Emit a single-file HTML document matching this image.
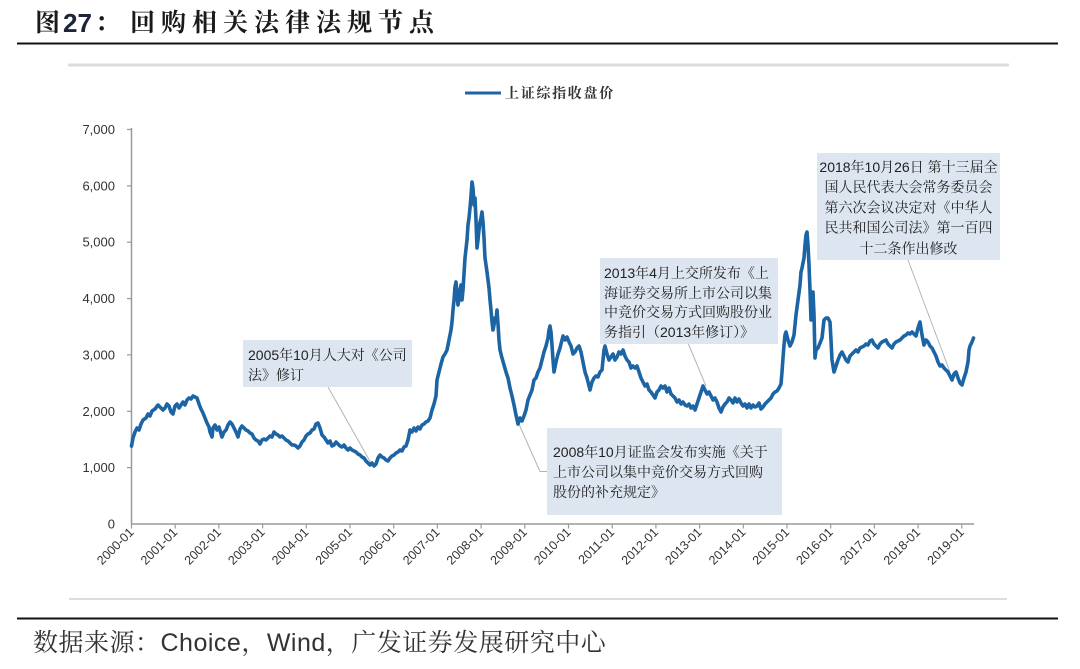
<!DOCTYPE html>
<html><head><meta charset="utf-8">
<style>
html,body{margin:0;padding:0;background:#fff;}
svg{display:block;}
.ser{font-family:"Liberation Sans","Noto Serif CJK SC",serif;}
.ann{font-family:"Liberation Sans","Noto Serif CJK SC",serif;font-size:14px;fill:#222;}
.ax{font-family:"Liberation Sans",sans-serif;font-size:13px;fill:#333;}
.axx{font-family:"Liberation Sans",sans-serif;font-size:12.5px;fill:#333;}
</style></head>
<body>
<svg width="1080" height="669" viewBox="0 0 1080 669" xmlns="http://www.w3.org/2000/svg">
<rect width="1080" height="669" fill="#fff"/>
<!-- title -->
<text x="35" y="31" class="ser" font-size="25" font-weight="700" fill="#1a1a1a">图</text>
<text x="63" y="32" font-family="Liberation Sans,sans-serif" font-size="26" font-weight="700" fill="#1c2638">27</text>
<text x="95" y="31" class="ser" font-size="25" font-weight="700" fill="#1a1a1a">：</text>
<text x="130" y="31" class="ser" font-size="25" font-weight="700" fill="#1a1a1a" letter-spacing="6">回购相关法律法规节点</text>
<line x1="17" y1="43.5" x2="1058" y2="43.5" stroke="#111" stroke-width="2"/>
<line x1="68" y1="65" x2="1009" y2="65" stroke="#dcdcdc" stroke-width="3"/>
<!-- legend -->
<line x1="465" y1="93" x2="501" y2="93" stroke="#1c64a4" stroke-width="3"/>
<text x="505" y="98" class="ser" font-size="14" font-weight="700" fill="#333" letter-spacing="1.7">上证综指收盘价</text>
<!-- y axis -->
<line x1="131.5" y1="128" x2="131.5" y2="524" stroke="#9a9a9a" stroke-width="1.5"/>
<g stroke="#9a9a9a" stroke-width="1.2">
<line x1="127" y1="129.5" x2="131.5" y2="129.5"/>
<line x1="127" y1="185.9" x2="131.5" y2="185.9"/>
<line x1="127" y1="242.2" x2="131.5" y2="242.2"/>
<line x1="127" y1="298.6" x2="131.5" y2="298.6"/>
<line x1="127" y1="354.9" x2="131.5" y2="354.9"/>
<line x1="127" y1="411.3" x2="131.5" y2="411.3"/>
<line x1="127" y1="467.6" x2="131.5" y2="467.6"/>
</g>
<g class="ax" text-anchor="end">
<text x="115" y="134">7,000</text>
<text x="115" y="190.4">6,000</text>
<text x="115" y="246.7">5,000</text>
<text x="115" y="303.1">4,000</text>
<text x="115" y="359.4">3,000</text>
<text x="115" y="415.8">2,000</text>
<text x="115" y="472.1">1,000</text>
<text x="115" y="528.5">0</text>
</g>
<!-- x axis -->
<line x1="131" y1="524" x2="974" y2="524" stroke="#9a9a9a" stroke-width="1.5"/>
<g stroke="#9a9a9a" stroke-width="1.2">
<line x1="131.5" y1="524" x2="131.5" y2="528.5"/>
<line x1="175.2" y1="524" x2="175.2" y2="528.5"/>
<line x1="218.9" y1="524" x2="218.9" y2="528.5"/>
<line x1="262.6" y1="524" x2="262.6" y2="528.5"/>
<line x1="306.3" y1="524" x2="306.3" y2="528.5"/>
<line x1="350" y1="524" x2="350" y2="528.5"/>
<line x1="393.7" y1="524" x2="393.7" y2="528.5"/>
<line x1="437.4" y1="524" x2="437.4" y2="528.5"/>
<line x1="481.1" y1="524" x2="481.1" y2="528.5"/>
<line x1="524.8" y1="524" x2="524.8" y2="528.5"/>
<line x1="568.5" y1="524" x2="568.5" y2="528.5"/>
<line x1="612.2" y1="524" x2="612.2" y2="528.5"/>
<line x1="655.9" y1="524" x2="655.9" y2="528.5"/>
<line x1="699.6" y1="524" x2="699.6" y2="528.5"/>
<line x1="743.3" y1="524" x2="743.3" y2="528.5"/>
<line x1="787" y1="524" x2="787" y2="528.5"/>
<line x1="830.7" y1="524" x2="830.7" y2="528.5"/>
<line x1="874.4" y1="524" x2="874.4" y2="528.5"/>
<line x1="918.1" y1="524" x2="918.1" y2="528.5"/>
<line x1="961.8" y1="524" x2="961.8" y2="528.5"/>
</g>
<g class="axx" text-anchor="end">
<text transform="translate(134.5,533) rotate(-45)">2000-01</text>
<text transform="translate(178.2,533) rotate(-45)">2001-01</text>
<text transform="translate(221.9,533) rotate(-45)">2002-01</text>
<text transform="translate(265.6,533) rotate(-45)">2003-01</text>
<text transform="translate(309.3,533) rotate(-45)">2004-01</text>
<text transform="translate(353,533) rotate(-45)">2005-01</text>
<text transform="translate(396.7,533) rotate(-45)">2006-01</text>
<text transform="translate(440.4,533) rotate(-45)">2007-01</text>
<text transform="translate(484.1,533) rotate(-45)">2008-01</text>
<text transform="translate(527.8,533) rotate(-45)">2009-01</text>
<text transform="translate(571.5,533) rotate(-45)">2010-01</text>
<text transform="translate(615.2,533) rotate(-45)">2011-01</text>
<text transform="translate(658.9,533) rotate(-45)">2012-01</text>
<text transform="translate(702.6,533) rotate(-45)">2013-01</text>
<text transform="translate(746.3,533) rotate(-45)">2014-01</text>
<text transform="translate(790,533) rotate(-45)">2015-01</text>
<text transform="translate(833.7,533) rotate(-45)">2016-01</text>
<text transform="translate(877.4,533) rotate(-45)">2017-01</text>
<text transform="translate(921.1,533) rotate(-45)">2018-01</text>
<text transform="translate(964.8,533) rotate(-45)">2019-01</text>
</g>
<!-- leader lines -->
<g stroke="#b4b4b4" stroke-width="1" fill="none">
<line x1="328" y1="387" x2="371" y2="463"/>
<line x1="688" y1="343" x2="706" y2="386"/>
<polyline points="518,422 540,471.5 547,471.5"/>
<line x1="908" y1="260" x2="950" y2="372"/>
</g>
<!-- series -->
<polyline fill="none" stroke="#1c64a4" stroke-width="3.6" stroke-linejoin="round" stroke-linecap="round" points="
131.5,446 133,438 135,432 137,428 139,430 141,424 143,420 146,418 148,414 150,416 152,411 155,409 158,405 160,407 163,410 165,408 167,404 169,406 171,412 173,414 175,406 177,404 179,408 181,405 183,402 185,405 187,400 189,398 191,399 193,396 195,397 197,398 199,404 201,409 203,413 205,418 207,423 209,427 210,432 212,437 213,428 215,425 217,430 219,427 221,434 222,437 224,432 226,430 228,425 230,422 232,424 234,428 236,432 238,437 240,429 242,426 244,428 246,430 248,431 250,433 252,434 254,438 256,440 258,441 260,444 262,440 264,439 266,440 268,438 270,436 272,437 274,432 276,434 278,435 280,437 282,436 284,438 286,440 288,441 290,443 292,445 294,445 296,446 298,448 300,446 302,442 304,440 306,436 308,434 310,433 312,430 314,429 316,424 318,423 320,428 322,435 324,437 326,440 328,443 330,441 332,446 334,445 336,442 338,444 340,446 342,447 344,445 346,448 348,450 350,448 352,450 354,451 356,452 358,454 360,455 362,457 364,458 366,461 368,463 370,465 372,463 374,466 376,464 378,458 380,455 382,457 384,458 386,460 388,461 390,458 392,456 394,455 396,453 398,452 400,450 402,451 404,447 406,446 408,440 410,430 412,432 414,428 416,431 418,427 420,429 422,425 424,424 426,422 428,421 430,418 432,410 434,404 436,396 437,380 439,372 441,364 443,357 445,354 447,350 449,340 451,330 452,322 453,310 454,300 455,287 456,282 457,295 458,305 459,299 460,290 461,285 462,300 463,290 465,258 467,240 468,225 469,218 470,208 471,196 472,182 473,188 474,205 475,198 476,220 477,248 478,240 479,230 480,222 481,218 482,212 483,222 484,238 485,258 486,265 487,272 488,280 489,288 490,300 491,310 492,322 493,330 494,325 495,318 496,320 497,310 498,324 499,340 500,350 502,358 504,365 506,372 508,378 510,388 512,396 514,405 516,415 518,424 520,418 522,421 524,416 526,410 528,400 530,395 532,390 534,380 536,378 538,372 540,368 542,360 544,352 546,346 548,338 549,330 550,326 551,332 552,345 553,360 554,372 556,362 558,354 560,348 562,340 563,336 565,340 567,337 569,342 571,346 573,354 575,352 577,348 579,346 581,352 583,362 585,372 587,378 589,386 590,390 592,382 594,378 596,376 598,377 600,372 602,370 604,350 605,346 607,354 609,360 611,357 613,354 615,360 617,357 619,352 621,354 623,350 625,356 627,360 629,362 631,368 633,366 635,368 637,366 639,372 641,378 643,382 645,386 647,384 649,390 651,392 653,395 655,398 657,392 659,390 661,386 663,388 665,386 667,392 669,388 671,394 673,396 675,398 677,402 679,400 681,404 683,402 685,405 687,406 689,404 691,408 693,406 695,410 697,404 699,398 701,392 703,386 705,390 707,394 709,392 711,396 713,400 715,398 717,402 719,408 721,412 723,407 725,404 727,402 729,398 731,400 733,403 735,398 737,402 739,399 741,403 743,406 745,404 747,408 749,404 751,408 753,405 755,407 757,406 759,403 761,409 763,407 765,404 767,402 769,400 771,398 773,394 775,392 777,391 779,388 781,384 782,372 783,358 784,345 785,335 786,332 788,340 790,346 792,342 794,335 796,315 798,300 800,285 801,272 802,268 804,258 805,245 806,235 807,232 808,245 809,265 810,290 811,320 812,300 813,292 814,315 815,358 816,350 818,348 820,343 822,338 824,320 826,318 828,318 830,322 831,340 832,360 834,372 836,366 838,360 840,355 842,352 844,356 846,360 848,362 850,356 852,354 854,352 856,350 858,352 860,348 862,347 864,346 866,344 868,345 870,341 872,340 874,344 876,346 878,348 880,344 882,342 884,341 886,340 888,344 890,346 892,348 894,344 896,342 898,341 900,340 902,338 904,336 906,335 908,333 910,334 912,332 914,334 916,336 918,328 920,322 922,335 924,345 926,340 928,342 930,346 932,348 934,352 936,356 938,362 940,366 942,365 944,368 946,370 948,372 950,376 952,380 954,374 956,372 958,378 960,383 962,385 964,378 966,372 968,362 969,350 970,346 972,342 973.5,338"/>
<!-- annotation boxes -->
<rect x="243" y="340" width="169" height="47" fill="#dce5f0"/>
<text class="ann" x="248" y="360">2005年10月人大对《公司</text>
<text class="ann" x="248" y="380">法》修订</text>

<rect x="600" y="258" width="178" height="86" fill="#dce5f0"/>
<text class="ann" x="604" y="278">2013年4月上交所发布《上</text>
<text class="ann" x="604" y="298">海证券交易所上市公司以集</text>
<text class="ann" x="604" y="317">中竞价交易方式回购股份业</text>
<text class="ann" x="604" y="337">务指引（2013年修订）》</text>

<rect x="547" y="428" width="235" height="87" fill="#dce5f0"/>
<text class="ann" x="553" y="457">2008年10月证监会发布实施《关于</text>
<text class="ann" x="553" y="477">上市公司以集中竞价交易方式回购</text>
<text class="ann" x="553" y="497">股份的补充规定》</text>

<rect x="817" y="153" width="183" height="107" fill="#dce5f0"/>
<g class="ann" text-anchor="middle">
<text x="908.5" y="172">2018年10月26日 第十三届全</text>
<text x="908.5" y="192">国人民代表大会常务委员会</text>
<text x="908.5" y="212.5">第六次会议决定对《中华人</text>
<text x="908.5" y="232.5">民共和国公司法》第一百四</text>
<text x="908.5" y="253.5">十二条作出修改</text>
</g>
<!-- bottom -->
<line x1="69" y1="599" x2="1007" y2="599" stroke="#dcdcdc" stroke-width="2"/>
<line x1="17" y1="618.5" x2="1058" y2="618.5" stroke="#111" stroke-width="2"/>
<text x="33" y="651" class="ser" font-size="25" fill="#333" letter-spacing="0.5">数据来源：Choice，Wind，广发证券发展研究中心</text>
</svg>
</body></html>
